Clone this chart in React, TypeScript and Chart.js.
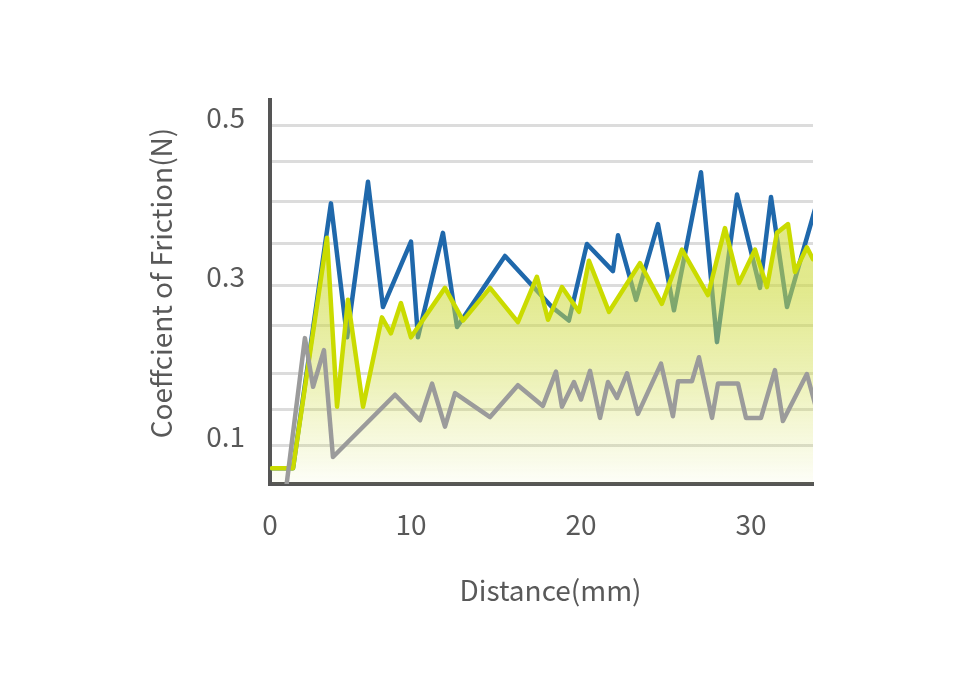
import React, { useEffect, useRef } from "react";
import { Chart, registerables } from "chart.js";

Chart.register(...registerables);

// ---- Data (distance in mm, coefficient of friction) ----
const blueDistance = [1.82, 3.06, 5.29, 6.24, 7.47, 8.35, 10.0, 10.41, 11.88, 12.71, 15.53, 18.29, 19.29, 20.35, 21.88, 22.18, 23.24, 24.53, 25.47, 27.06, 28.0, 29.18, 30.53, 31.18, 32.12, 33.76];
const blueFriction = [0.071, 0.071, 0.403, 0.235, 0.43, 0.273, 0.355, 0.235, 0.366, 0.248, 0.337, 0.273, 0.256, 0.352, 0.318, 0.363, 0.282, 0.377, 0.269, 0.442, 0.229, 0.414, 0.297, 0.411, 0.273, 0.395];

const yellowDistance = [1.82, 3.06, 5.06, 5.65, 6.29, 7.18, 8.29, 8.82, 9.41, 10.0, 12.0, 13.06, 14.65, 16.29, 17.41, 18.06, 18.88, 19.88, 20.47, 21.65, 23.47, 24.76, 25.94, 27.47, 28.47, 29.29, 30.24, 30.94, 31.53, 32.18, 32.59, 33.29, 33.65];
const yellowFriction = [0.071, 0.071, 0.36, 0.148, 0.282, 0.148, 0.26, 0.24, 0.278, 0.235, 0.297, 0.256, 0.297, 0.254, 0.311, 0.257, 0.298, 0.267, 0.331, 0.267, 0.328, 0.277, 0.345, 0.288, 0.372, 0.303, 0.345, 0.298, 0.366, 0.377, 0.317, 0.348, 0.333];

const grayDistance = [2.65, 3.76, 4.24, 4.88, 5.41, 9.06, 10.53, 11.24, 12.0, 12.59, 14.65, 16.29, 17.76, 18.53, 18.88, 19.59, 20.0, 20.53, 21.12, 21.59, 22.12, 22.71, 23.35, 24.71, 25.41, 25.71, 26.53, 26.94, 27.71, 28.06, 29.24, 29.71, 30.59, 31.41, 31.88, 33.29, 33.76];
const grayFriction = [0.045, 0.234, 0.173, 0.219, 0.085, 0.163, 0.131, 0.177, 0.123, 0.165, 0.135, 0.175, 0.149, 0.192, 0.148, 0.179, 0.157, 0.193, 0.134, 0.179, 0.159, 0.19, 0.139, 0.202, 0.136, 0.18, 0.18, 0.21, 0.134, 0.177, 0.177, 0.134, 0.134, 0.194, 0.13, 0.189, 0.152];

// ---- Axes ----
const xMin = 1.706;
const xMax = 33.65;
const xTickValues = [1.706, 10, 20, 30];
const xTickLabels = ["0", "10", "20", "30"];
const yMin = 0.0511;
const yMax = 0.5326;
const yGridValues = [0.1, 0.145, 0.19, 0.25, 0.3, 0.353, 0.405, 0.455, 0.5];
const yLabelValues = [0.1, 0.3, 0.5];
const xAxisTitle = "Distance(mm)";
const yAxisTitle = "Coeffcient of Friction(N)";

const FONT = "'Noto Sans CJK JP', 'Noto Sans', sans-serif";
const TEXT = "#595959";

const toPoints = (xs: number[], ys: number[]) => xs.map((x, i) => ({ x, y: ys[i] }));

export default function App() {
  const ref = useRef<HTMLCanvasElement>(null);

  useEffect(() => {
    const canvas = ref.current;
    if (!canvas) return;

    const titlePlugin = {
      id: "axisTitles",
      afterDraw(chart: any) {
        const { ctx, chartArea } = chart;
        ctx.save();
        ctx.fillStyle = TEXT;
        ctx.font = `28px ${FONT}`;
        ctx.textAlign = "center";
        ctx.textBaseline = "middle";
        ctx.fillText(xAxisTitle, (chartArea.left + chartArea.right) / 2 + 9, chartArea.bottom + 106);
        ctx.translate(chartArea.left - 109, (chartArea.top + chartArea.bottom) / 2 - 9);
        ctx.rotate(-Math.PI / 2);
        ctx.fillText(yAxisTitle, 0, 0);
        ctx.restore();
      },
    };

    const lineCommon = {
      pointRadius: 0,
      borderWidth: 4.5,
      tension: 0,
      borderJoinStyle: "round" as const,
      borderCapStyle: "round" as const,
    };

    const chart = new Chart(canvas, {
      type: "line",
      data: {
        datasets: [
          {
            ...lineCommon,
            label: "C",
            data: toPoints(grayDistance, grayFriction),
            borderColor: "#9b9b9b",
            fill: false,
          },
          {
            ...lineCommon,
            label: "B",
            data: toPoints(yellowDistance, yellowFriction),
            borderColor: "#cadb00",
            fill: "start",
            backgroundColor: (c: any) => {
              const { chart } = c;
              const area = chart.chartArea;
              if (!area) return "rgba(205,218,60,0.5)";
              const g = chart.ctx.createLinearGradient(0, area.top, 0, area.bottom);
              g.addColorStop(0, "rgba(205,218,60,0.66)");
              g.addColorStop(0.5, "rgba(205,218,60,0.58)");
              g.addColorStop(0.73, "rgba(205,218,60,0.36)");
              g.addColorStop(0.83, "rgba(205,218,60,0.23)");
              g.addColorStop(0.94, "rgba(205,218,60,0.11)");
              g.addColorStop(1, "rgba(205,218,60,0.03)");
              return g;
            },
          },
          {
            ...lineCommon,
            label: "A",
            data: toPoints(blueDistance, blueFriction),
            borderColor: "#1f68ab",
            fill: false,
          },
        ],
      },
      options: {
        animation: false,
        responsive: false,
        events: [],
        layout: { padding: { left: 0, right: 147, top: 100, bottom: 86 } },
        plugins: {
          legend: { display: false },
          tooltip: { enabled: false },
        },
        scales: {
          x: {
            type: "linear",
            min: xMin,
            max: xMax,
            afterBuildTicks: (scale: any) => {
              scale.ticks = xTickValues.map((v) => ({ value: v }));
            },
            afterFit: (scale: any) => {
              scale.height = 130;
            },
            ticks: {
              autoSkip: false,
              maxRotation: 0,
              padding: 24,
              color: TEXT,
              font: { family: FONT, size: 28 },
              callback: (_v: any, i: number) => xTickLabels[i],
            },
            grid: { display: false, drawTicks: false },
            border: { display: true, color: "#555555", width: 4 },
          },
          y: {
            type: "linear",
            min: yMin,
            max: yMax,
            afterBuildTicks: (scale: any) => {
              scale.ticks = yGridValues.map((v) => ({ value: v }));
            },
            afterFit: (scale: any) => {
              scale.width = 270;
            },
            ticks: {
              autoSkip: false,
              padding: 25,
              labelOffset: -9,
              color: TEXT,
              font: { family: FONT, size: 28 },
              callback: (v: any) => {
                const hit = yLabelValues.find((l) => Math.abs(l - Number(v)) < 0.004);
                return hit === undefined ? "" : String(hit);
              },
            },
            grid: { color: "#dcdcdc", lineWidth: 3, drawTicks: false },
            border: { display: true, color: "#555555", width: 4 },
          },
        },
      },
      plugins: [titlePlugin],
    });

    return () => chart.destroy();
  }, []);

  return (
    <div style={{ position: "absolute", left: 0, top: 0, width: 960, height: 700, background: "#ffffff" }}>
      <canvas ref={ref} width={960} height={700} style={{ display: "block" }} />
    </div>
  );
}
